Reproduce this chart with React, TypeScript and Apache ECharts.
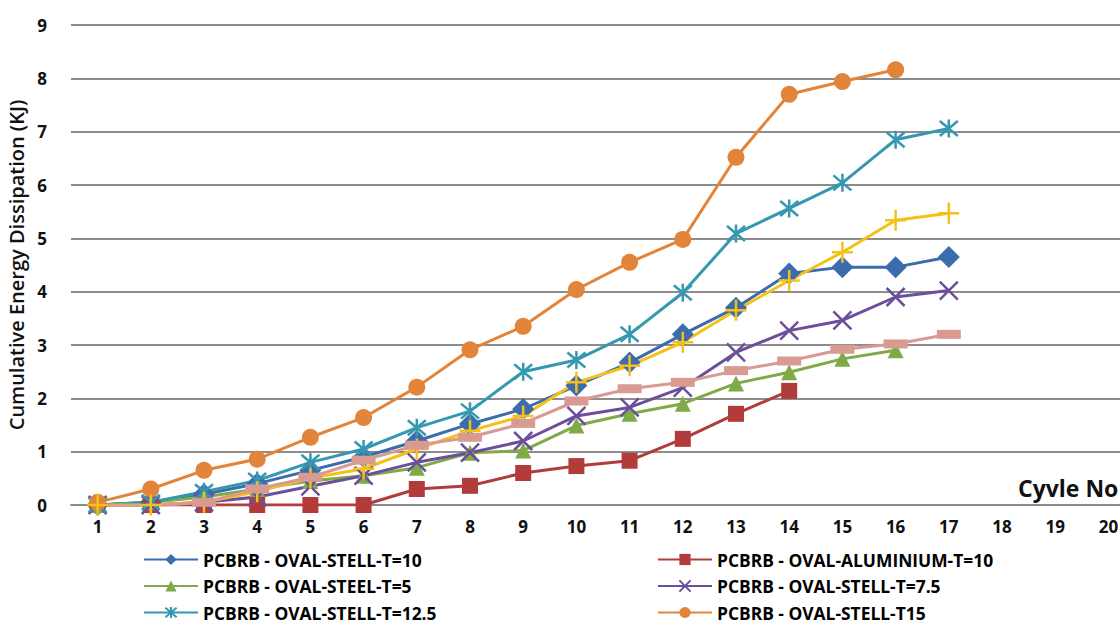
import React, { useEffect, useRef } from "react";
import * as echarts from "echarts";

const categories = ["1","2","3","4","5","6","7","8","9","10","11","12","13","14","15","16","17","18","19","20"];

const seriesNames = [
  "PCBRB - OVAL-STELL-T=10",
  "PCBRB - OVAL-ALUMINIUM-T=10",
  "PCBRB - OVAL-STEEL-T=5",
  "PCBRB - OVAL-STELL-T=7.5",
  "PCBRB - OVAL-STELL-T=12.5",
  "PCBRB - OVAL-STELL-T15",
  "Series 7",
  "Series 8",
];

const steelT10 = [0, 0.05, 0.2, 0.4, 0.65, 0.9, 1.2, 1.52, 1.8, 2.24, 2.67, 3.2, 3.7, 4.34, 4.46, 4.46, 4.65];
const aluminiumT10 = [0, 0, 0, 0, 0, 0, 0.3, 0.36, 0.6, 0.73, 0.83, 1.24, 1.71, 2.14];
const steelT5 = [0, 0.05, 0.15, 0.3, 0.45, 0.55, 0.7, 0.98, 1.02, 1.49, 1.71, 1.9, 2.28, 2.49, 2.74, 2.9];
const steelT75 = [0, 0, 0.05, 0.15, 0.35, 0.55, 0.8, 0.98, 1.2, 1.67, 1.83, 2.2, 2.86, 3.27, 3.46, 3.9, 4.02];
const steelT125 = [0, 0.05, 0.25, 0.46, 0.8, 1.05, 1.45, 1.76, 2.5, 2.72, 3.2, 3.98, 5.09, 5.56, 6.04, 6.85, 7.06];
const steelT15 = [0.05, 0.3, 0.65, 0.86, 1.27, 1.64, 2.21, 2.91, 3.35, 4.04, 4.55, 4.98, 6.52, 7.7, 7.94, 8.16];
const series7 = [0, 0, 0.05, 0.25, 0.5, 0.68, 1.05, 1.39, 1.67, 2.3, 2.61, 3.05, 3.65, 4.21, 4.74, 5.34, 5.47];
const series8 = [-0.02, -0.02, 0.05, 0.3, 0.52, 0.84, 1.12, 1.27, 1.53, 1.95, 2.18, 2.3, 2.52, 2.7, 2.92, 3.02, 3.2];

const yTicks = [0, 9, 1];

const FONT = "Open Sans";

export default function App() {
  const ref = useRef<HTMLDivElement>(null);
  useEffect(() => {
    if (!ref.current) return;
    const chart = echarts.init(ref.current, undefined, { renderer: "svg" });
    const X = "path://M0,0L10,10M10,0L0,10";
    const STAR = "path://M0,0L10,10M10,0L0,10M5,-1L5,11";
    const PLUS = "path://M5,0L5,10M0,5L10,5";
    const mk = (
      name: string,
      data: number[],
      color: string,
      symbol: string,
      size: any,
      stroke = false
    ) => ({
      name,
      type: "line",
      data,
      symbol,
      symbolSize: size,
      showSymbol: true,
      lineStyle: { color, width: 3 },
      itemStyle: stroke
        ? { color, borderColor: color, borderWidth: 2.5 }
        : { color, borderWidth: 0 },
      emphasis: { disabled: true },
    });
    const legendText = { fontFamily: FONT, fontWeight: "bold", fontSize: 17.4, color: "#000", lineHeight: 17 };
    const legendCommon = {
      orient: "vertical",
      top: 551,
      height: 72,
      itemWidth: 54,
      itemHeight: 14,
      itemGap: 9.5,
      padding: 0,
      textStyle: legendText,
      selectedMode: false,
    };
    chart.setOption({
      animation: false,
      backgroundColor: "#fff",
      grid: {
        left: 71,
        top: 25,
        width: 1064,
        height: 480,
        containLabel: false,
        outerBoundsMode: "none",
      },
      xAxis: {
        type: "category",
        data: categories,
        boundaryGap: true,
        axisLine: { show: true, lineStyle: { color: "#8c8c8c", width: 2 } },
        axisTick: { show: false },
        axisLabel: { fontFamily: FONT, fontWeight: "bold", fontSize: 17, color: "#111", margin: 13 },
        splitLine: { show: false },
      },
      yAxis: {
        type: "value",
        min: yTicks[0],
        max: yTicks[1],
        interval: yTicks[2],
        name: "Cumulative Energy Dissipation (KJ)",
        nameLocation: "middle",
        nameGap: 42,
        nameTextStyle: { fontFamily: FONT, fontSize: 20, fontWeight: 600, color: "#111" },
        axisLine: { show: false },
        axisTick: { show: false },
        axisLabel: { fontFamily: FONT, fontWeight: "bold", fontSize: 17, color: "#111", margin: 24 },
        splitLine: { show: true, lineStyle: { color: "#8c8c8c", width: 2 } },
      },
      legend: [
        { ...legendCommon, data: [seriesNames[0], seriesNames[2], seriesNames[4]], left: 143 },
        { ...legendCommon, data: [seriesNames[1], seriesNames[3], seriesNames[5]], left: 657 },
      ],
      graphic: [
        {
          type: "text",
          left: 1018,
          top: 476,
          style: { text: "Cyvle No", font: `bold 23px ${FONT}`, fill: "#111" },
        },
      ],
      series: [
        mk(seriesNames[0], steelT10, "#3b6cae", "diamond", 22),
        mk(seriesNames[1], aluminiumT10, "#b23c3c", "rect", 16),
        mk(seriesNames[2], steelT5, "#80aa47", "triangle", 16),
        mk(seriesNames[3], steelT75, "#6c4f9b", X, 18, true),
        mk(seriesNames[4], steelT125, "#3598b0", STAR, 18, true),
        mk(seriesNames[5], steelT15, "#e2843a", "circle", 17),
        mk(seriesNames[6], series7, "#f6c117", PLUS, 21, true),
        mk(seriesNames[7], series8, "#d99a92", "rect", [24, 9]),
      ],
    });
    return () => chart.dispose();
  }, []);
  return (
    <div
      ref={ref}
      style={{ position: "fixed", left: 0, top: 0, width: 1120, height: 626 }}
    />
  );
}
